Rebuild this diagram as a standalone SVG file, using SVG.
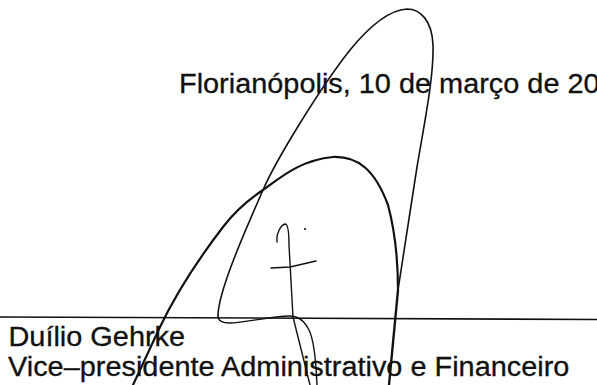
<svg xmlns="http://www.w3.org/2000/svg" width="597" height="385" viewBox="0 0 597 385">
<style>
.t{font-family:"Liberation Sans",Arial,Helvetica,sans-serif;font-size:27px;fill:#111;stroke:#111;stroke-width:0.3}
.s{fill:none;stroke:#111;stroke-linecap:round;stroke-linejoin:round}
</style>
<rect width="597" height="385" fill="#fff"/>
<g id="date">
<text class="t" transform="translate(179,93) scale(1.07,1)">Florianópolis, 10 de março de 20</text>
</g>
<g id="rule">
<path d="M0,317 L597,319.5" stroke="#111" stroke-width="1.6" fill="none"/>
</g>
<g id="name">
<text class="t" transform="translate(8.5,346) scale(1.07,1)">Duílio Gehrke</text>
<text class="t" transform="translate(8,376) scale(1.07,1)">Vice–presidente Administrativo e Financeiro</text>
</g>
<g id="signature">
<path class="s" stroke-width="1.6" d="M218,316 C218,290 250,220 263,190 C276,160 320,88 350,50 C368,28 388,10 407,9 C420,9 432,20 433,45 C434,75 425,120 417,167 L398,290"/>
<path class="s" stroke-width="2.4" d="M398,290 L389,385"/>
<path class="s" stroke-width="1.4" d="M317,385 C316,360 314,340 309,330 C304,320 298,316 290,316 C270,316 245,323 230,323 C221,323 218,320 218,316"/>
<path class="s" stroke-width="2.2" d="M133,385 L160,327 C172,302 190,270 223,227 C236,210 248,200 263,190 C280,178 300,160 333,157 C358,156 375,170 388,205 C396,235 398,265 398,290"/>
<path class="s" stroke-width="1.4" d="M277,242 C276,233 281,225 285,224 C288,224 289,232 289,245 L293,317 L310,385"/>
<path class="s" stroke-width="1.5" d="M271,268 L290,267 L316,261"/>
<circle cx="305" cy="229" r="1.1" fill="#111"/>
</g>
</svg>
